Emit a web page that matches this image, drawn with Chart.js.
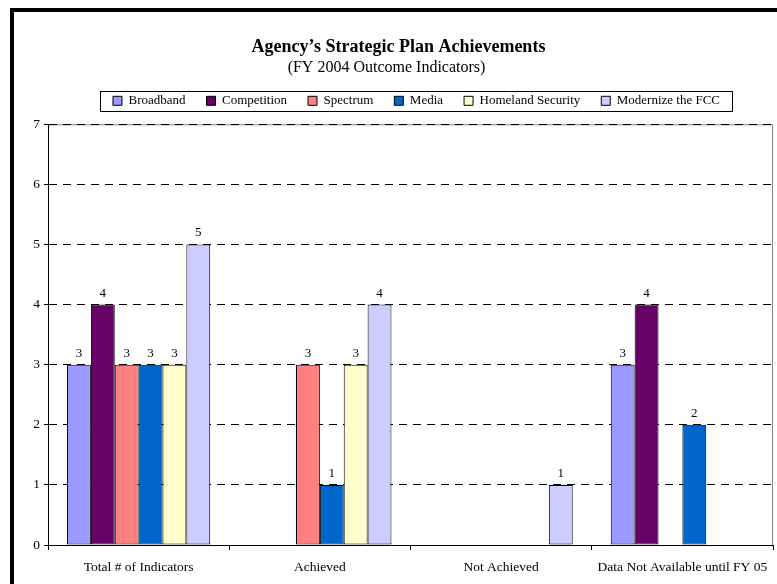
<!DOCTYPE html>
<html>
<head>
<meta charset="utf-8">
<title>Agency's Strategic Plan Achievements</title>
<script src="https://cdn.jsdelivr.net/npm/chart.js@4"></script>
<style>
    html, body { margin: 0; padding: 0; background: #fff; overflow: hidden; }
    #wrap { position: relative; width: 777px; height: 584px; }
    #frame {
        position: absolute; left: 10px; top: 8px; width: 900px; height: 700px;
        border-left: 4px solid #000; border-top: 4px solid #000; pointer-events: none;
    }
</style>
</head>
<body>
<div id="wrap">
    <canvas id="logroChart" width="777" height="584"></canvas>
    <div id="frame"></div>
</div>
<script>
// ── Datos ─────────────
const categorias = ['Total # of Indicators', 'Achieved', 'Not Achieved', 'Data Not Available until FY 05'];
const broadband   = [3, 0, 0, 3];
const competition = [4, 0, 0, 4];
const spectrum    = [3, 3, 0, 0];
const media       = [3, 1, 0, 2];
const homeland    = [3, 3, 0, 0];
const modernize   = [5, 4, 1, 0];
const yTicks      = [0, 1, 2, 3, 4, 5, 6, 7];

const serif = "'Liberation Serif', 'Times New Roman', serif";

// valores encima de cada barra (sin los ceros)
const etiquetas = {
    id: 'etiquetas',
    afterDatasetsDraw(chart) {
        const ctx = chart.ctx;
        ctx.save();
        ctx.font = '13px ' + serif;
        ctx.fillStyle = '#000';
        ctx.textAlign = 'center';
        ctx.textBaseline = 'bottom';
        chart.data.datasets.forEach((ds, i) => {
            chart.getDatasetMeta(i).data.forEach((bar, j) => {
                const v = ds.data[j];
                if (v > 0) ctx.fillText(String(v), bar.x, bar.y - 5);
            });
        });
        ctx.restore();
    }
};

// título y leyenda un poco desplazados, como en el original
const desplazar = {
    id: 'desplazar',
    afterLayout(chart) {
        [[chart.titleBlock, 12, 0], [chart.$subtitle, 12, 0], [chart.legend, 30, -7]].forEach(([box, dx, dy]) => {
            if (!box) return;
            box.left += dx;
            box.right += dx;
            box.top += dy;
            box.bottom += dy;
        });
    }
};

// marco gris del área y caja de la leyenda
const marcos = {
    id: 'marcos',
    beforeDraw(chart) {
        const a = chart.chartArea, ctx = chart.ctx;
        ctx.save();
        ctx.strokeStyle = '#808080';
        ctx.lineWidth = 1;
        ctx.beginPath();
        ctx.moveTo(a.left, a.top + 0.5);
        ctx.lineTo(a.right - 0.5, a.top + 0.5);
        ctx.lineTo(a.right - 0.5, a.bottom);
        ctx.stroke();
        ctx.restore();
    },
    afterDraw(chart) {
        const boxes = chart.legend.legendHitBoxes;
        if (!boxes || !boxes.length) return;
        const ctx = chart.ctx;
        const x0 = Math.min(...boxes.map(b => b.left)) - 13;
        const x1 = Math.max(...boxes.map(b => b.left + b.width)) + 12;
        const cy = boxes[0].top + boxes[0].height / 2;
        ctx.save();
        ctx.strokeStyle = '#000';
        ctx.lineWidth = 1;
        ctx.strokeRect(Math.round(x0) + 0.5, Math.round(cy - 10) + 0.5, Math.round(x1 - x0), 20);
        ctx.restore();
    }
};

function serie(label, data, color) {
    return {
        label: label, data: data, backgroundColor: color,
        borderColor: '#000', borderWidth: 1, borderSkipped: false
    };
}

new Chart(document.getElementById('logroChart'), {
    type: 'bar',
    data: {
        labels: categorias,
        datasets: [
            serie('Broadband', broadband, '#9999ff'),
            serie('Competition', competition, '#660066'),
            serie('Spectrum', spectrum, '#ff8080'),
            serie('Media', media, '#0066cc'),
            serie('Homeland Security', homeland, '#ffffcc'),
            serie('Modernize the FCC', modernize, '#ccccff')
        ]
    },
    options: {
        responsive: false,
        animation: false,
        devicePixelRatio: 1,
        layout: { padding: { left: 0, right: 4, top: 0, bottom: 0 } },
        datasets: { bar: { categoryPercentage: 0.79, barPercentage: 1 } },
        scales: {
            x: {
                afterFit(scale) { scale.height = 39; },
                grid: { offset: true, drawOnChartArea: false, tickLength: 5, color: '#000' },
                border: { color: '#000' },
                ticks: { color: '#000', font: { family: serif, size: 13.5 }, padding: 9, maxRotation: 0 }
            },
            y: {
                min: 0,
                max: 7,
                afterFit(scale) { scale.width = 48; },
                afterBuildTicks(scale) { scale.ticks = yTicks.map(v => ({ value: v })); },
                grid: { color: '#000', tickLength: 4, tickBorderDash: [] },
                border: { color: '#000', dash: [8, 6] },
                ticks: { color: '#000', font: { family: serif, size: 13.5 }, padding: 4 }
            }
        },
        plugins: {
            title: {
                display: true,
                text: 'Agency\u2019s Strategic Plan Achievements',
                color: '#000',
                font: { family: serif, size: 18, weight: 'bold' },
                padding: { top: 37, bottom: 0 }
            },
            subtitle: {
                display: true,
                text: '(FY 2004 Outcome Indicators)',
                color: '#000',
                font: { family: serif, size: 16 },
                padding: { top: 0, bottom: 2.5 }
            },
            legend: {
                position: 'top',
                labels: {
                    color: '#000',
                    font: { family: serif, size: 13 },
                    boxWidth: 9,
                    boxHeight: 9,
                    padding: 21
                }
            },
            tooltip: { enabled: false }
        }
    },
    plugins: [desplazar, etiquetas, marcos]
});
</script>
</body>
</html>
